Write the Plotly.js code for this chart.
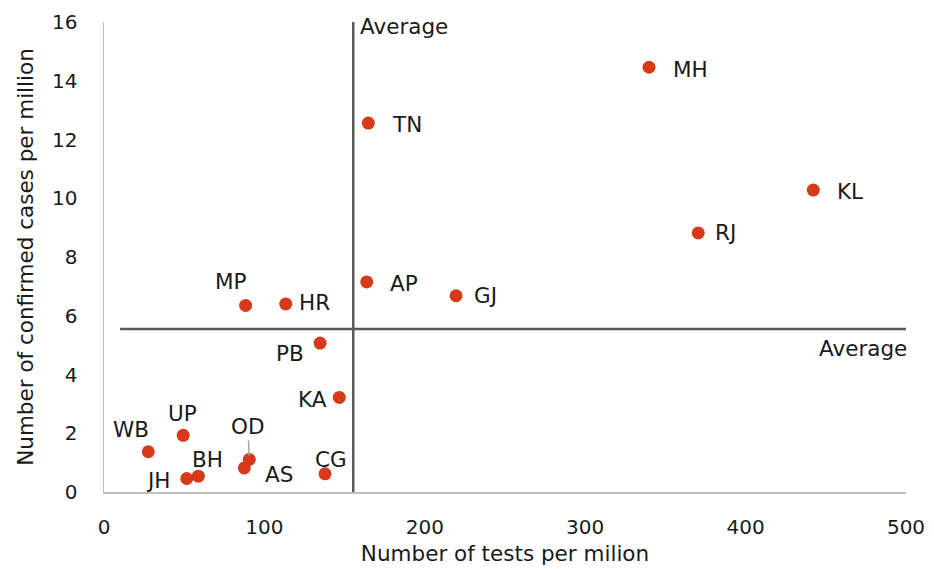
<!DOCTYPE html>
<html>
<head>
<meta charset="utf-8">
<script src="https://cdn.plot.ly/plotly-3.0.1.min.js"></script>
<style>html,body{margin:0;padding:0;background:#fff}#chart{width:934px;height:569px}</style>
</head>
<body>
<div id="chart"></div>
<script>
// ---- data ----
const states = ["MH","TN","KL","RJ","AP","GJ","MP","HR","PB","KA","WB","UP","OD","AS","BH","JH","CG"];
const testsPerMillion = [339.8,164.8,442.2,370.5,163.8,219.5,88.3,113.3,134.7,146.7,27.6,49.4,90.6,87.5,58.8,51.6,137.8];
const casesPerMillion = [14.46,12.56,10.28,8.82,7.15,6.68,6.35,6.40,5.07,3.22,1.37,1.93,1.11,0.82,0.54,0.46,0.62];
const avgTests = 155.4;
const avgCases = 5.55;
const xTicks = [0,100,200,300,400,500];
const yTicks = [0,2,4,6,8,10,12,14,16];

// ---- label placement (styling) ----
const place = {
  MH:{a:"left",dx:22,dy:-2}, TN:{a:"left",dx:22,dy:-1}, KL:{a:"left",dx:22,dy:-1},
  RJ:{a:"left",dx:15,dy:0}, AP:{a:"left",dx:21,dy:-2}, GJ:{a:"left",dx:16,dy:0},
  MP:{a:"center",dx:-15,dy:24}, HR:{a:"left",dx:11,dy:2}, PB:{a:"right",dx:-14,dy:-10},
  KA:{a:"right",dx:-10,dy:-2}, WB:{a:"center",dx:-17,dy:22}, UP:{a:"center",dx:-1,dy:22},
  OD:{a:"center",dx:-1.5,dy:33,arrow:true}, AS:{a:"left",dx:19,dy:-7}, BH:{a:"center",dx:9,dy:17},
  JH:{a:"right",dx:-14,dy:-2}, CG:{a:"center",dx:6,dy:14}
};

const FONT = "DejaVu Sans, sans-serif";
const FS_LAB = 21.5;
const FS_TICK = 20;
const FS_TITLE = 21.5;
const TXT = "#1a1a1a";

const annotations = states.map((s,i)=>{
  const p = place[s];
  if (p.arrow) {
    return {x:testsPerMillion[i], y:casesPerMillion[i], xref:"x", yref:"y", text:s,
      showarrow:true, arrowhead:0, arrowwidth:1.5, arrowcolor:"#a6a6a6",
      ax:p.dx, ay:-p.dy, standoff:4, font:{family:FONT,size:FS_LAB,color:TXT}};
  }
  return {x:testsPerMillion[i], y:casesPerMillion[i], xref:"x", yref:"y", text:s,
    showarrow:false, xanchor:p.a, yanchor:"middle", xshift:p.dx, yshift:p.dy,
    font:{family:FONT,size:FS_LAB,color:TXT}};
});
annotations.push({x:avgTests, y:16, xref:"x", yref:"y", text:"Average", showarrow:false,
  xanchor:"left", yanchor:"middle", xshift:5, yshift:-4, font:{family:FONT,size:FS_LAB,color:TXT}});
annotations.push({x:500, y:avgCases, xref:"x", yref:"y", text:"Average", showarrow:false,
  xanchor:"right", yanchor:"top", xshift:3, yshift:-5, font:{family:FONT,size:FS_LAB,color:TXT}});

const shapes = [
  {type:"line", xref:"x", yref:"y", x0:avgTests, x1:avgTests, y0:0, y1:16.12, line:{color:"#595959",width:2.5}},
  {type:"line", xref:"x", yref:"y", x0:10, x1:500, y0:avgCases, y1:avgCases, line:{color:"#595959",width:2.5}}
];

const trace = {x:testsPerMillion, y:casesPerMillion, text:states, type:"scatter", mode:"markers",
  marker:{color:"#d63a1a", size:13}, hoverinfo:"text", cliponaxis:false};

const layout = {
  width:934, height:569,
  margin:{l:104, r:28, t:22, b:77, pad:0},
  paper_bgcolor:"#fff", plot_bgcolor:"#fff",
  showlegend:false,
  font:{family:FONT, size:FS_TICK, color:TXT},
  xaxis:{range:[0,500], tickvals:xTicks, ticktext:xTicks.map(String), showgrid:false, zeroline:false,
    showline:true, linecolor:"#bfbfbf", linewidth:1.5, ticks:"", ticklabelstandoff:16,
    tickfont:{family:FONT,size:FS_TICK,color:TXT},
    title:{text:"Number of tests per milion", font:{family:FONT,size:FS_TITLE,color:TXT}, standoff:8}},
  yaxis:{range:[0,16], tickvals:yTicks, ticktext:yTicks.map(String), showgrid:false, zeroline:false,
    showline:true, linecolor:"#bfbfbf", linewidth:1.5, ticks:"", ticklabelstandoff:21,
    tickfont:{family:FONT,size:FS_TICK,color:TXT},
    title:{text:"Number of confirmed cases per million", font:{family:FONT,size:FS_TITLE,color:TXT}, standoff:12}},
  shapes:shapes, annotations:annotations
};

Plotly.newPlot("chart",[trace],layout,{displayModeBar:false,staticPlot:true});
</script>
</body>
</html>
